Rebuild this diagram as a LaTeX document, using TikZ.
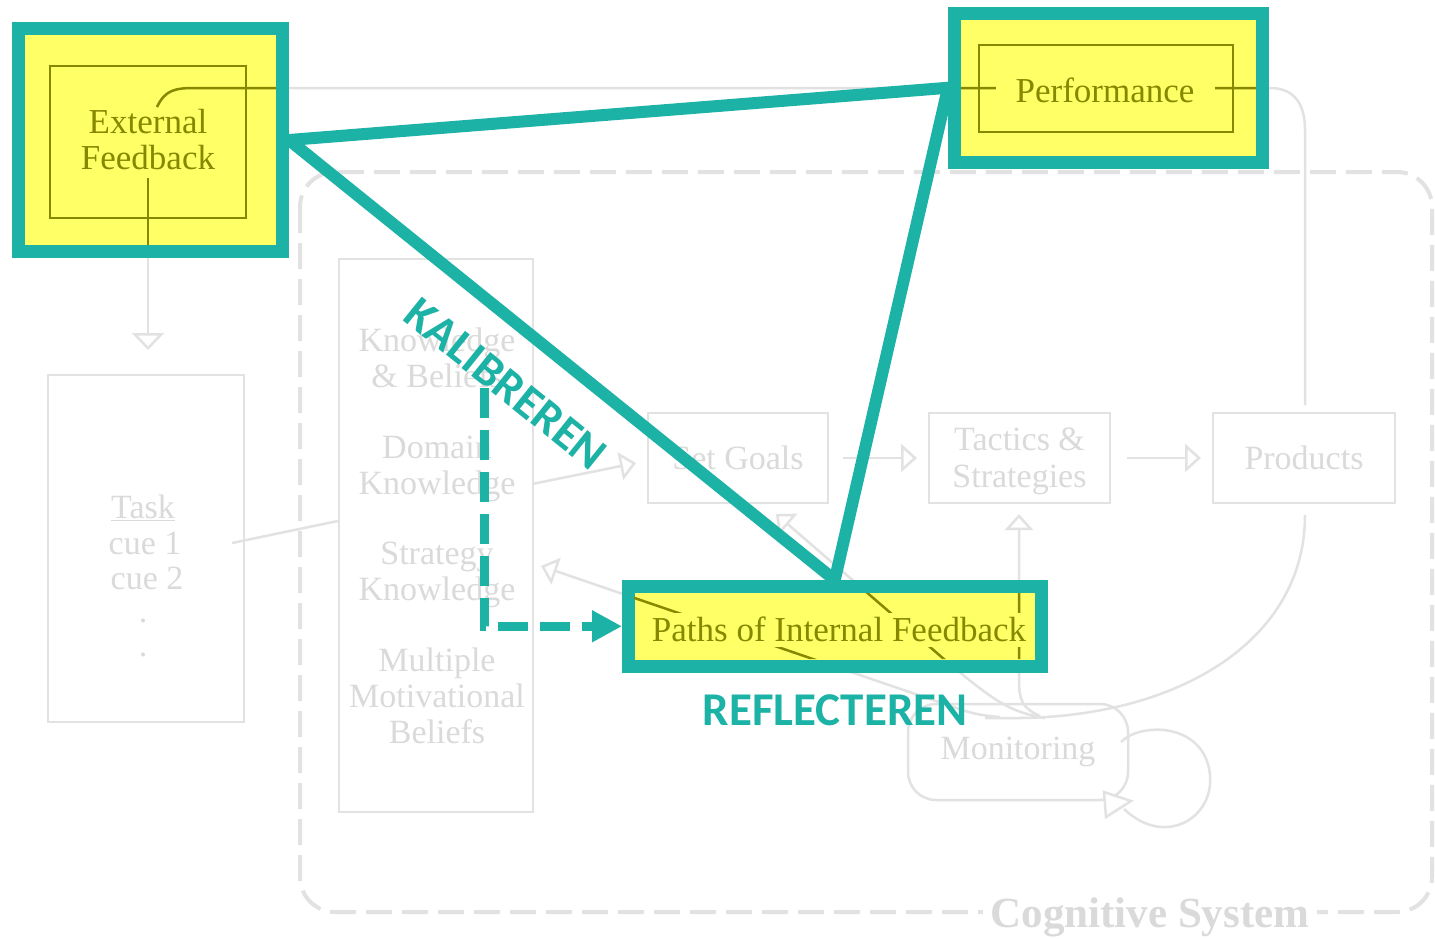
\documentclass[tikz,border=0pt]{standalone}
\usepackage{fontspec}
\setmainfont{Liberation Serif}
\newfontfamily\calib{Carlito}
\usetikzlibrary{arrows.meta}
\definecolor{teal1}{RGB}{29,178,166}
\definecolor{yel}{RGB}{255,255,102}
\definecolor{oliv}{RGB}{135,135,0}
\definecolor{bgl}{RGB}{226,226,226}
\definecolor{bgt}{RGB}{218,218,218}
\tikzset{
  bgline/.style={draw=bgl, line width=2.5pt},
  bgbox/.style={draw=bgl, line width=2.5pt, inner sep=0pt, text=bgt, align=center,
     font=\fontsize{34}{37}\selectfont},
  bgtext/.style={text=bgt, align=center, font=\fontsize{34}{36}\selectfont, inner sep=0pt},
  openhead/.style={-{Triangle[open,length=16pt,width=28pt]}},
  hlbox/.style={draw=teal1, line width=13pt, fill=yel, inner sep=0pt},
  olbox/.style={draw=oliv, line width=2.5pt, inner sep=0pt},
  oltext/.style={text=oliv, align=center, font=\fontsize{35}{36}\selectfont, inner sep=0pt},
  tline/.style={draw=teal1, line width=12pt, line cap=round},
  tlabel/.style={text=teal1, font=\calib\bfseries\fontsize{47}{47}\selectfont, inner sep=0pt},
}
\begin{document}
\begin{tikzpicture}[x=1pt,y=-1pt]
\useasboundingbox (0,0) rectangle (1435,938);
\fill[white] (0,0) rectangle (1435,938);

% ---------- faded background diagram ----------
\draw[draw=bgl, line width=4pt, dash pattern=on 26pt off 10pt, rounded corners=35pt]
  (300,172) rectangle (1432,912);
\node[fill=white, text=bgt, font=\bfseries\fontsize{43}{43}\selectfont, inner xsep=8pt, inner ysep=2pt]
  (cog) at (1150,917) {Cognitive System};

\node[bgbox, minimum width=196pt, minimum height=347pt] (task) at (146,548.5) {};
\node[bgtext] (taskT) at (143,508) {\underline{Task}};
\node[bgtext] (cue1) at (145,543) {cue 1};
\node[bgtext] (cue2) at (147,578) {cue 2};
\node[bgtext] (dot1) at (143,621) {.};
\node[bgtext] (dot2) at (143,655) {.};

\node[bgbox, minimum width=194pt, minimum height=553pt] (know) at (436,535.5) {};
\node[bgtext] (kb) at (437,358) {Knowledge\\\& Beliefs};
\node[bgtext] (dk) at (437,469) {Domain\\Knowledge};
\node[bgtext] (sk) at (437,575) {Strategy\\Knowledge};
\node[bgtext] (mm) at (437,696) {Multiple\\Motivational\\Beliefs};

\node[bgbox, minimum width=180pt, minimum height=90pt] (goals) at (738,458) {Set Goals};
\node[bgbox, minimum width=181pt, minimum height=90pt] (tact) at (1019.5,458) {};
\node[bgtext] (tactT) at (1019.5,461) {Tactics \&\\[1pt]Strategies};
\node[bgbox, minimum width=182pt, minimum height=90pt] (prod) at (1304,458) {Products};
\node[bgbox, rounded corners=28pt, minimum width=220pt, minimum height=96pt] (mon) at (1018,752) {Monitoring};

\coordinate (efTop) at (157,107);
\coordinate (efBot) at (148,178);
\coordinate (l1s) at (1000,717);
\coordinate (l2s) at (1045,718);
\coordinate (l7s) at (1040,716);

\draw[bgline] (efTop) .. controls (165,90) and (175,88) .. (195,88) -- (1270,88)
  .. controls (1295,88) and (1305,105) .. (1305,130) -- (1305,405);
\draw[bgline, -{Triangle[open,length=17pt,width=32pt]}] (efBot) -- (148,350);
\draw[bgline] (232,543) -- (know.west |- 0,521);
\draw[bgline, openhead] (532,484) -- (636,463);
\draw[bgline, openhead] (843,458) -- (917,458);
\draw[bgline, openhead] (1127,458) -- (1201,458);
\draw[bgline, openhead] (l7s) .. controls (1022,708) and (1019,700) .. (1019,680) -- (1019,514);
\draw[bgline, openhead] (l1s) .. controls (985,716) and (975,714) .. (962,710) -- (541,566);
\draw[bgline, openhead] (l2s) .. controls (1010,712) and (995,702) .. (945,660) -- (776,514);
\draw[bgline] (1305,515) .. controls (1305,640) and (1180,716) .. (1020,718) -- (985,718);
% self loop of Monitoring
\draw[bgline] (1121,742) .. controls (1140,722) and (1205,722) .. (1210,775)
  .. controls (1214,818) and (1165,848) .. (1124,809);
\draw[bgline, fill=white] (1104,792) -- (1131,801) -- (1106,817) -- cycle;

% ---------- highlighted boxes ----------
\node[hlbox, minimum width=264pt, minimum height=223pt] (efb) at (150.5,140) {};
\node[hlbox, minimum width=308pt, minimum height=149.5pt] (perf) at (1108.5,87.75) {};
\node[hlbox, minimum width=412.5pt, minimum height=79.5pt] (paths) at (834.75,626.25) {};

\begin{scope}
  \clip (25,35) rectangle (276,245) (961,20) rectangle (1256,156) (634,593) rectangle (1036,659);
  \draw[bgline, draw=oliv] (efTop) .. controls (165,90) and (175,88) .. (195,88) -- (1270,88);
  \draw[bgline, draw=oliv] (efBot) -- (148,300);
  \draw[bgline, draw=oliv] (l7s) .. controls (1022,708) and (1019,700) .. (1019,680) -- (1019,514);
  \draw[bgline, draw=oliv] (l1s) .. controls (985,716) and (975,714) .. (962,710) -- (541,566);
  \draw[bgline, draw=oliv] (l2s) .. controls (1010,712) and (995,702) .. (945,660) -- (776,514);
\end{scope}
\fill[yel] (996,72) rectangle (1215,106);
\fill[yel] (640,613) rectangle (1030,647);

\node[olbox, minimum width=196pt, minimum height=152pt] (efbIn) at (148,142) {};
\node[olbox, minimum width=254pt, minimum height=87pt] (perfIn) at (1106,88.5) {};
\node[oltext] (efbT) at (148,140) {External\\Feedback};
\node[oltext] (perfT) at (1105,90) {Performance};
\node[oltext] (pathsT) at (839,629) {Paths of Internal Feedback};

% ---------- teal connectors ----------
\draw[tline] (efb.east) -- (perf.west);
\draw[tline] (efb.east) -- (paths.north);
\draw[tline] (perf.west) -- (paths.north);

\coordinate (dstart) at (484,388);
\draw[draw=teal1, line width=9pt, dash pattern=on 30pt off 12pt,
      -{Triangle[length=30pt,width=30pt]}] (dstart) |- (paths.west);

\node[tlabel, rotate=-38.8] (kal) at (506,384) {KALIBREREN};
\node[tlabel] (refl) at (835,710) {REFLECTEREN};
\end{tikzpicture}
\end{document}
